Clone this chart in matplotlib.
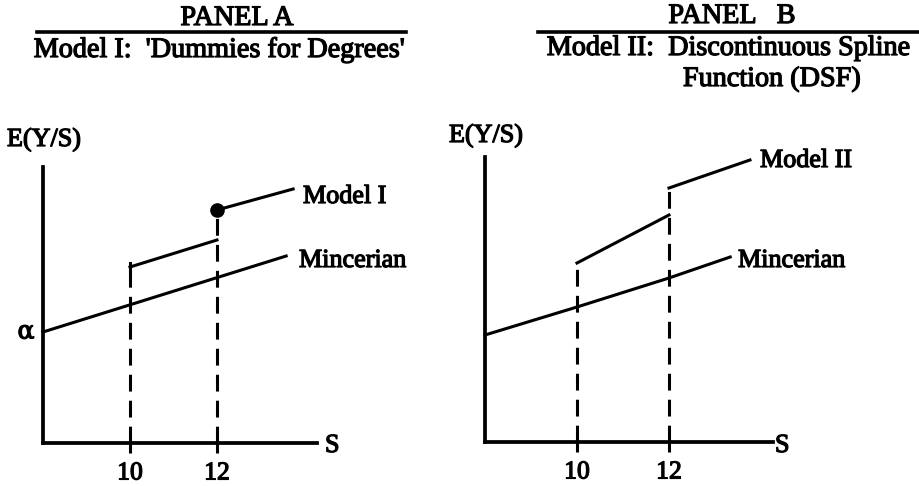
import matplotlib
matplotlib.use("Agg")
import matplotlib.pyplot as plt
import matplotlib.patheffects as pe

# ---------------- data ----------------
# Panel A: Model I 'Dummies for Degrees'
a_minc_s = [8.0, 13.59]
a_minc_y = [11.1, 18.7]
a_mid_s = [10.0, 12.0]
a_mid_y = [17.6, 20.3]
a_top_s = [12.0, 13.75]
a_top_y = [23.3, 25.4]
# Panel B: Model II Discontinuous spline
b_minc_s = [8.0, 10.0, 12.0, 13.33]
b_minc_y = [10.7, 13.5, 16.4, 18.5]
b_mid_s = [10.0, 12.0]
b_mid_y = [17.9, 22.7]
b_top_s = [12.0, 13.76]
b_top_y = [25.4, 28.2]
tick_vals = [10, 12]
tick_labels = ["10", "12"]

W, H = 919, 486
fig = plt.figure(figsize=(W / 100, H / 100), dpi=100)
FONT = "Liberation Serif"
FS_LAB = 18.8
FS_TICK = 18.5
FS_TITLE = 20.3
LW = 2.2
DASH = (0, (5.5, 3.0))
EFF = [pe.withStroke(linewidth=0.9, foreground="black")]


def fx(x):
    return x / W


def fy(y):
    return 1 - y / H


def make_axes(x0px, pxper, y0px, xmax, ymax):
    # axes whose origin (S=8, v=0) is at pixel (x0px, y0px); 1 S unit = pxper px, 1 v unit = 10 px
    right_px = x0px + (xmax - 8) * pxper
    top_px = y0px - ymax * 10
    ax = fig.add_axes([fx(x0px), fy(y0px), (right_px - x0px) / W, (y0px - top_px) / H])
    ax.set_xlim(8, xmax)
    ax.set_ylim(0, ymax)
    ax.patch.set_alpha(0)
    for s in ["top", "right"]:
        ax.spines[s].set_visible(False)
    for s in ["left", "bottom"]:
        ax.spines[s].set_linewidth(LW + 0.5)
        ax.spines[s].set_color("black")
    ax.set_yticks([])
    ax.set_xticks(tick_vals)
    ax.set_xticklabels(tick_labels, fontfamily=FONT, fontsize=FS_TICK)
    for t in ax.get_xticklabels():
        t.set_path_effects(EFF)
    ax.tick_params(axis="x", length=7, width=LW, direction="out", pad=7)
    return ax


# ---- Panel A ----
axA = make_axes(43, 43.5, 443, 14.6, 29.3)
axA.spines["bottom"].set_bounds(8, 14.3)
axA.spines["left"].set_bounds(0, 27.6)
axA.plot(a_minc_s, a_minc_y, color="black", lw=LW, clip_on=False)
axA.plot(a_mid_s, a_mid_y, color="black", lw=LW, clip_on=False)
axA.plot([a_mid_s[0]] * 2, [a_mid_y[0] - 0.5, a_mid_y[0] + 0.4], color="black", lw=LW, clip_on=False)
axA.plot(a_top_s, a_top_y, color="black", lw=LW, clip_on=False)
axA.plot([a_top_s[0]], [a_top_y[0]], "o", color="black", ms=9.5, clip_on=False)
axA.plot([10, 10], [0, a_mid_y[0]], color="black", lw=LW, ls=DASH, clip_on=False)
axA.plot([12, 12], [0, a_top_y[0]], color="black", lw=LW, ls=DASH, clip_on=False)

# ---- Panel B ----
axB = make_axes(485, 46.0, 442, 14.6, 29.0)
axB.spines["bottom"].set_bounds(8, 14.26)
axB.spines["left"].set_bounds(0, 28.5)
axB.plot(b_minc_s, b_minc_y, color="black", lw=LW, clip_on=False)
axB.plot(b_mid_s, b_mid_y, color="black", lw=LW, clip_on=False)
axB.plot(b_top_s, b_top_y, color="black", lw=LW, clip_on=False)
axB.plot([10, 10], [0, b_mid_y[0]], color="black", lw=LW, ls=DASH, clip_on=False)
axB.plot([12, 12], [0, b_top_y[0]], color="black", lw=LW, ls=DASH, clip_on=False)


# ---- texts ----
def txt(x, y, s, ha="left", va="baseline", size=FS_LAB, family=FONT, **kw):
    t = fig.text(fx(x), fy(y), s, ha=ha, va=va, fontsize=size, fontfamily=family,
                 color="black", **kw)
    t.set_path_effects(EFF)
    return t


txt(237, 25, "PANEL A", ha="center", size=FS_TITLE)
txt(220, 57, "Model I:  'Dummies for Degrees'", ha="center", size=FS_TITLE)
fig.add_artist(plt.Line2D([fx(37), fx(406)], [fy(32), fy(32)], color="black", lw=2.6))

txt(732, 23, "PANEL   B", ha="center", size=FS_TITLE)
txt(729, 55, "Model II:  Discontinuous Spline", ha="center", size=FS_TITLE)
txt(772, 86, "Function (DSF)", ha="center", size=FS_TITLE)
fig.add_artist(plt.Line2D([fx(538), fx(919)], [fy(32), fy(32)], color="black", lw=2.6))

txt(44, 146, "E(Y/S)", ha="center")
txt(486, 142, "E(Y/S)", ha="center")
txt(26, 332, "\u03b1", ha="center", va="center", size=18, family="DejaVu Serif")

txt(325, 452, "S")
txt(775, 452, "S")

txt(303, 203, "Model I")
txt(299, 267, "Mincerian")
txt(760, 167, "Model II")
txt(738, 267, "Mincerian")

fig.savefig("out.png", dpi=100)
